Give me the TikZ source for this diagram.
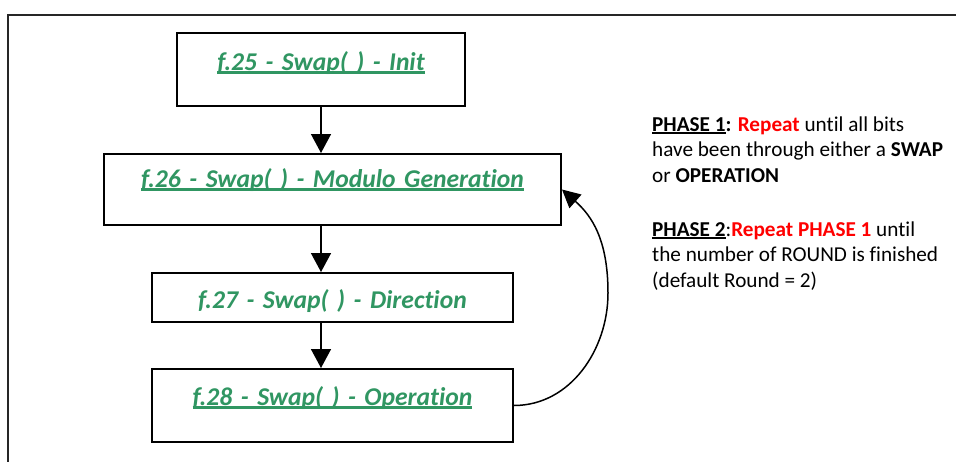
\documentclass[tikz,border=0pt]{standalone}
\usepackage{fontspec}
\setmainfont{Carlito}[Ligatures=NoCommon]
\usetikzlibrary{arrows.meta}
\definecolor{fgreen}{RGB}{48,150,98}
\definecolor{fred}{RGB}{255,0,0}
\newcommand\myul[1]{\setbox0\hbox{#1}\rlap{\rule[-3.8pt]{\wd0}{2.4pt}}\box0}
\newcommand\myulb[1]{\setbox0\hbox{#1}\rlap{\rule[-3pt]{\wd0}{1.7pt}}\box0}
\tikzset{
  box/.style={draw, line width=2pt, inner sep=0pt, align=center,
    font=\fontsize{25.6}{28}\selectfont\bfseries\itshape, text=fgreen},
  flow/.style={line width=1.5pt, -{Triangle[width=20pt,length=19pt]}},
  note/.style={anchor=base west, align=left, inner sep=0pt,
    font=\fontsize{21.2}{25.5}\selectfont}
}
\begin{document}
\begin{tikzpicture}[x=1pt,y=-1pt]
\useasboundingbox (0,0) rectangle (956,461);
\fill[white] (0,0) rectangle (956,461);
\draw[line width=2pt, black!85] (8,475) -- (8,15) -- (970,15);

\node[box, text width=288pt, text height=37pt, text depth=36pt] (b1) at (321,69.5) {\myul{f.25 - Swap( ) - Init}};
\node[box, text width=457pt, text height=33pt, text depth=38pt] (b2) at (332.5,189.5) {\myul{f.26 - Swap( ) - Modulo Generation}};
\node[box, text width=361pt, text height=35pt, text depth=14pt] (b3) at (332.5,297.5) {f.27 - Swap( ) - Direction};
\node[box, text width=361pt, text height=36pt, text depth=37pt] (b4) at (332.5,405.5) {\myul{f.28 - Swap( ) - Operation}};

\draw[flow] (b1.south) -- (b1.south |- b2.north);
\draw[flow] (b2.south -| b1.south) -- (b3.north -| b1.south);
\draw[flow] (b3.south -| b1.south) -- (b4.north -| b1.south);
\draw[line width=1.5pt, -{Triangle[width=18pt,length=18pt]}] (b4.east)
  .. controls (570,405.5) and (608,350) .. (608,293)
  .. controls (608,240) and (592,216) .. (b2.east);

\node[note] (p1) at (652,182) {\textbf{\myulb{PHASE 1}:} \textbf{\textcolor{fred}{Repeat}} until all bits\\
have been through either a \textbf{SWAP}\\
or \textbf{OPERATION}};
\node[note] (p2) at (652,287) {\textbf{\myulb{PHASE 2}}:\textbf{\textcolor{fred}{Repeat PHASE 1}} until\\
the number of ROUND is finished\\
(default Round = 2)};
\end{tikzpicture}
\end{document}
